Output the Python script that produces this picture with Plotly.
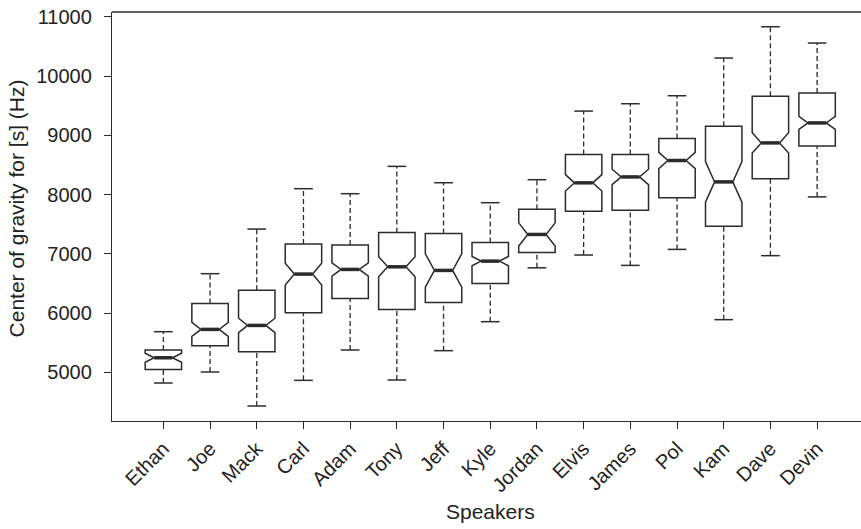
import plotly.graph_objects as go

speakers = ["Ethan", "Joe", "Mack", "Carl", "Adam", "Tony", "Jeff", "Kyle",
            "Jordan", "Elvis", "James", "Pol", "Kam", "Dave", "Devin"]
lower_whisker = [4820, 5006, 4432, 4865, 5377, 4871, 5366, 5855, 6764, 6980, 6805, 7075, 5889, 6969, 7961]
q1 = [5050, 5449, 5348, 6005, 6248, 6062, 6180, 6501, 7024, 7720, 7737, 7945, 7467, 8265, 8821]
median = [5246, 5725, 5792, 6658, 6737, 6781, 6720, 6877, 7327, 8198, 8298, 8575, 8214, 8872, 9209]
q3 = [5376, 6163, 6384, 7164, 7147, 7361, 7344, 7192, 7754, 8676, 8676, 8948, 9153, 9659, 9715]
upper_whisker = [5686, 6665, 7418, 8099, 8015, 8476, 8200, 7863, 8251, 9409, 9533, 9668, 10304, 10832, 10557]
notch_span = [76, 118, 121, 183, 112, 169, 281, 78, 196, 138, 129, 138, 342, 172, 110]
y_ticks = [5000, 6000, 7000, 8000, 9000, 10000, 11000]
y_tick_labels = ["5000", "6000", "7000", "8000", "9000", "10000", "11000"]

pos = list(range(1, len(speakers) + 1))
BOX_W = 0.78
CAP_HW = 0.2
MED_HW = BOX_W / 4
INK = "#2b2b2b"

fig = go.Figure()
fig.add_trace(go.Box(
    x=pos, q1=q1, median=median, q3=q3,
    lowerfence=q1, upperfence=q3, notchspan=notch_span,
    notched=True, notchwidth=0.25, width=BOX_W, whiskerwidth=0,
    fillcolor="white", line=dict(color=INK, width=1.5),
    boxpoints=False, hoverinfo="skip", showlegend=False,
))

# dashed whiskers
wx, wy = [], []
for p, lo, a, b, hi in zip(pos, lower_whisker, q1, q3, upper_whisker):
    wx += [p, p, None, p, p, None]
    wy += [b, hi, None, lo, a, None]
fig.add_trace(go.Scatter(x=wx, y=wy, mode="lines", line=dict(color=INK, width=1.3, dash="5px,3px"),
                         hoverinfo="skip", showlegend=False))
# caps
cx, cy = [], []
for p, lo, hi in zip(pos, lower_whisker, upper_whisker):
    cx += [p - CAP_HW, p + CAP_HW, None, p - CAP_HW, p + CAP_HW, None]
    cy += [hi, hi, None, lo, lo, None]
fig.add_trace(go.Scatter(x=cx, y=cy, mode="lines", line=dict(color=INK, width=1.5),
                         hoverinfo="skip", showlegend=False))
# thick medians
mx, my = [], []
for p, m in zip(pos, median):
    mx += [p - MED_HW, p + MED_HW, None]
    my += [m, m, None]
fig.add_trace(go.Scatter(x=mx, y=my, mode="lines", line=dict(color=INK, width=3.5),
                         hoverinfo="skip", showlegend=False))

fig.update_layout(
    width=861, height=529,
    margin=dict(l=112, r=0, t=12, b=108, autoexpand=False),
    paper_bgcolor="white", plot_bgcolor="white",
    font=dict(family="Liberation Sans, Arial, sans-serif", size=20, color="#222"),
    showlegend=False,
    shapes=[dict(type="line", xref="paper", yref="paper", x0=0, x1=1.01, y0=1, y1=1,
                 line=dict(color=INK, width=1.3))],
    annotations=[
        dict(text="Center of gravity for [s] (Hz)", xref="paper", yref="paper",
             x=-0.128, y=0.52, xanchor="center", yanchor="middle", textangle=-90,
             showarrow=False, font=dict(size=21)),
        dict(text="Speakers", xref="paper", yref="paper", x=0.505, y=-0.222,
             xanchor="center", yanchor="middle", showarrow=False, font=dict(size=21)),
    ],
)
fig.update_xaxes(
    range=[-0.1, 15.94], tickvals=pos, ticktext=speakers, tickangle=-45,
    ticks="outside", ticklen=7, tickcolor=INK, showline=True, linecolor=INK, linewidth=1.3,
    mirror=False, showgrid=False, zeroline=False, tickfont=dict(size=20), automargin=False,
)
fig.update_yaxes(
    range=[4179, 11081], tickvals=y_ticks, ticktext=y_tick_labels, ticks="outside", ticklen=7,
    tickcolor=INK, showline=True, linecolor=INK, linewidth=1.3, showgrid=False, zeroline=False,
    tickfont=dict(size=20), ticklabelstandoff=8, automargin=False,
)
fig.write_html(
    "out.html",
    config={"displayModeBar": False},
    post_script="document.body.style.margin='0';document.body.style.overflow='hidden';",
)
